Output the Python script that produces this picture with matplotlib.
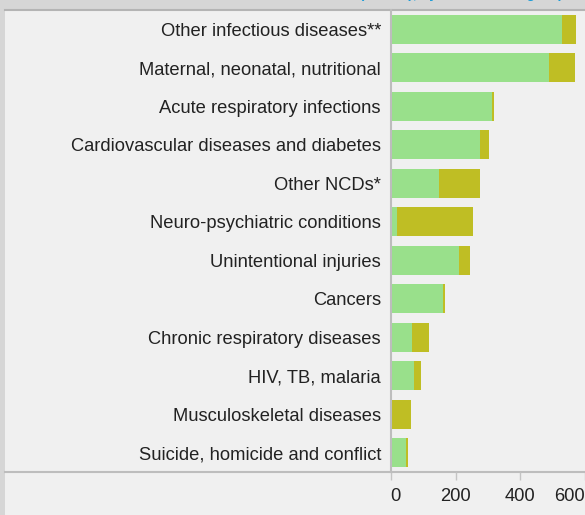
import matplotlib
matplotlib.use("Agg")
import matplotlib.pyplot as plt
from matplotlib.patches import Rectangle
from matplotlib.lines import Line2D

plt.rcParams['font.family'] = ['Liberation Sans', 'DejaVu Sans']

# DALYs per cause group, top to bottom
causes = [
    "Other infectious diseases**",
    "Maternal, neonatal, nutritional",
    "Acute respiratory infections",
    "Cardiovascular diseases and diabetes",
    "Other NCDs*",
    "Neuro-psychiatric conditions",
    "Unintentional injuries",
    "Cancers",
    "Chronic respiratory diseases",
    "HIV, TB, malaria",
    "Musculoskeletal diseases",
    "Suicide, homicide and conflict",
]
green_part = [529, 489, 313, 276, 149, 19, 211, 161, 66, 72, 0, 47]
olive_part = [43, 80, 6, 27, 127, 235, 34, 7, 52, 22, 63, 6]
x_ticks = [0, 200, 400, 600]

GREEN = "#99e08b"
OLIVE = "#bfbe24"
W, H = 585, 515


def fx(px):
    return px / W


def fy(py):
    return 1 - py / H


fig = plt.figure(figsize=(W / 100, H / 100), dpi=100, facecolor="#d6d6d6")

# light panel behind the chart
fig.patches.append(Rectangle((fx(5), 0), fx(585) - fx(5), fy(10),
                             transform=fig.transFigure, facecolor="#f0f0f0",
                             edgecolor="none", zorder=-2))
fig.lines.append(Line2D([fx(5), 1], [fy(10), fy(10)], transform=fig.transFigure,
                        color="#b4b4b4", lw=1.5, zorder=-1))
fig.lines.append(Line2D([fx(5), 1], [fy(472), fy(472)], transform=fig.transFigure,
                        color="#bdbdbd", lw=1.5, zorder=-1))

# title, mostly above the top edge (only descenders show)
fig.text(fx(566), fy(-2), "Burden of disease (DALYs), by broad cause group",
         ha="right", va="baseline", color="#1a9bd7", fontsize=10, fontweight="bold")

ax = fig.add_axes([fx(390.7), fy(472), fx(585.1) - fx(390.7), fy(10) - fy(472)])
ax.set_facecolor("none")
ax.set_zorder(2)

pos = list(range(len(causes)))
ax.barh(pos, green_part, height=0.75, color=GREEN, zorder=2)
ax.barh(pos, olive_part, left=green_part, height=0.75, color=OLIVE, zorder=2)

ax.set_xlim(0, 600)
ax.set_ylim(len(causes) - 0.5, -0.5)
ax.set_yticks(pos)
ax.set_yticklabels(causes, fontsize=13.2, color="#222222")
ax.tick_params(axis="y", length=0, pad=7)

ax.set_xticks(x_ticks)
ax.set_xticklabels([str(t) for t in x_ticks], fontsize=13.2, color="#222222")
ax.tick_params(axis="x", length=6, width=1, color="#c4c4c4", pad=5.5)
labels = ax.get_xticklabels()
labels[0].set_horizontalalignment("left")
labels[-1].set_horizontalalignment("right")

for side in ["top", "right", "bottom"]:
    ax.spines[side].set_visible(False)
ax.spines["left"].set_color("#bdbdbd")
ax.spines["left"].set_linewidth(1.5)

fig.savefig("out.png", dpi=100, facecolor=fig.get_facecolor())
